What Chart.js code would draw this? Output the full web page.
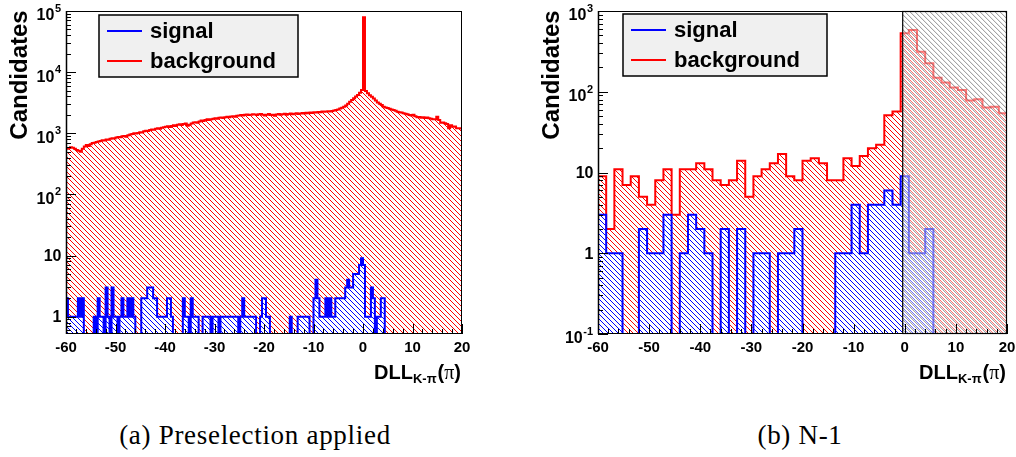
<!DOCTYPE html>
<html>
<head>
<meta charset="utf-8">
<script src="https://cdn.jsdelivr.net/npm/chart.js@4.4.1/dist/chart.umd.min.js"></script>
<style>
  body { margin: 0; background: #fff; width: 1016px; height: 457px; position: relative; overflow: hidden; }
  canvas { position: absolute; top: 0; }
  #chart-a { left: 0; }
  #chart-b { left: 505px; }
  .caption { position: absolute; top: 420px; font-family: 'Liberation Serif', serif; font-size: 27px; letter-spacing: 0.7px; color: #000; white-space: nowrap; transform: translateX(-50%); }
</style>
</head>
<body>
<canvas id="chart-a" width="505" height="400"></canvas>
<canvas id="chart-b" width="511" height="400"></canvas>
<div class="caption" style="left:255px">(a) Preselection applied</div>
<div class="caption" style="left:800px">(b) N-1</div>
<script>
// x range shared by both panels
const xMin = -60;
const xMax = 20;
const xTicks = [-60, -50, -40, -30, -20, -10, 0, 10, 20];
const legendLabels = ['signal', 'background'];
const xTitle = ['DLL', 'K-\u03c0', '(\u03c0)'];
const yTitle = 'Candidates';

// (a) preselection applied: 200 bins of 0.4
const bkgA = [
  560, 575, 590, 580, 560, 530, 515, 500, 560, 610, 640, 620, 660, 690, 700, 720, 735, 750, 770, 760,
  790, 780, 810, 830, 820, 850, 870, 860, 890, 900, 880, 930, 950, 970, 1000, 990, 1010, 1040, 1030, 1080,
  1100, 1090, 1130, 1150, 1140, 1180, 1210, 1190, 1230, 1250, 1280, 1300, 1270, 1320, 1350, 1310, 1380, 1400, 1370, 1420,
  1450, 1330, 1380, 1440, 1500, 1520, 1490, 1560, 1620, 1580, 1650, 1690, 1640, 1700, 1730, 1760, 1720, 1790, 1810, 1780,
  1830, 1860, 1820, 1880, 1900, 1870, 1930, 1960, 1990, 1950, 2000, 2030, 1990, 2010, 2050, 2020, 1980, 2040, 2060, 2000,
  1950, 2010, 2060, 1990, 2000, 1940, 2030, 2070, 2010, 2050, 2090, 2000, 2060, 2100, 2040, 2080, 2120, 2070, 2110, 2150,
  2100, 2170, 2120, 2180, 2150, 2200, 2180, 2230, 2200, 2260, 2240, 2280, 2300, 2270, 2320, 2350, 2400, 2450, 2550, 2620,
  2720, 2850, 3050, 3280, 3500, 3750, 4000, 4230, 4600, 5100, 79000, 4900, 4500, 4200, 3950, 3700, 3450, 3200, 3050, 2900,
  2720, 2650, 2580, 2520, 2450, 2400, 2330, 2250, 2200, 2180, 2120, 2080, 2050, 1990, 1960, 2000, 1900, 1830, 1850, 1800,
  1830, 1780, 1810, 1760, 1720, 1690, 1700, 1870, 1650, 1490, 1500, 1460, 1420, 1205, 1350, 1280, 1290, 1205, 1210, 1200
];
const sigA = [
  2, 1, 1, 1, 1, 1, 2, 1, 2, 0, 0, 0, 0, 0, 1, 0, 2, 1, 1, 0,
  3, 1, 0, 3, 1, 1, 0, 1, 2, 1, 1, 2, 1, 2, 1, 0, 0, 0, 2, 2,
  2, 3, 3, 3, 2, 2, 1, 1, 1, 1, 1, 2, 2, 1, 0, 0, 0, 0, 0, 2,
  1, 1, 0, 2, 1, 1, 1, 0, 0, 1, 1, 1, 1, 0, 1, 1, 1, 0, 1, 1,
  1, 1, 1, 1, 1, 1, 1, 0, 1, 2, 1, 1, 1, 1, 1, 1, 0, 0, 1, 2,
  2, 1, 1, 0, 0, 0, 0, 0, 0, 0, 0, 0, 0, 1, 0, 0, 0, 1, 1, 1,
  1, 1, 1, 0, 0, 2, 4, 2, 1, 1, 1, 2, 1, 2, 1, 1, 2, 2, 2, 2,
  2, 3, 4, 3, 3, 5, 5, 5, 7, 9, 7, 1, 1, 1, 3, 2, 0, 1, 1, 2,
  2, 0, 0, 0, 0, 0, 0, 0, 0, 0, 0, 0, 0, 0, 0, 0, 0, 0, 0, 0,
  0, 0, 0, 0, 0, 0, 0, 0, 0, 0, 0, 0, 0, 0, 0, 0, 0, 0, 0, 0
];
const yTicksA = [1, 10, 100, 1000, 10000, 100000];

// (b) N-1: 50 bins of 1.6
const bkgB = [
  9, 2, 11, 7, 9, 5, 4, 8, 11, 3,
  11, 11, 13, 11, 8, 7, 8, 14, 5, 9,
  11, 13, 17, 9, 8, 14, 15, 13, 8, 8,
  15, 12, 16, 20, 22, 51, 57, 530, 582, 313,
  225, 149, 130, 113, 105, 78, 81, 64, 65, 54
];
const sigB = [
  3, 1, 1, 0, 0, 2, 1, 1, 3, 0,
  1, 3, 2, 1, 0, 2, 0, 2, 0, 1,
  1, 0, 1, 1, 2, 0, 0, 0, 0, 1,
  1, 4, 1, 4, 4, 6, 4, 9, 1, 1,
  2, 0, 0, 0, 0, 0, 0, 0, 0, 0
];
const yTicksB = [0.1, 1, 10, 100, 1000];
const cutB = -0.5;

const FONT = "'Liberation Sans', Arial, sans-serif";
Chart.defaults.font.family = FONT;

function histPoints(values, floor) {
    const w = (xMax - xMin) / values.length;
    const pts = [{ x: xMin, y: floor }];
    values.forEach((v, i) => pts.push({ x: xMin + i * w, y: Math.max(v, floor) }));
    pts.push({ x: xMax, y: floor });
    return pts;
}

function makeHatch(color, size) {
    const c = document.createElement('canvas');
    c.width = size;
    c.height = size;
    const g = c.getContext('2d');
    g.strokeStyle = color;
    g.lineWidth = 1;
    g.beginPath();
    g.moveTo(0, 0); g.lineTo(size, size);
    g.moveTo(-size, 0); g.lineTo(size, 2 * size);
    g.moveTo(0, -size); g.lineTo(2 * size, size);
    g.stroke();
    return g.createPattern(c, 'repeat');
}

// diagonal lines drawn straight onto the chart, used for the cut region
function hatchRect(ctx, x0, y0, x1, y1, color, step) {
    ctx.save();
    ctx.beginPath();
    ctx.rect(x0, y0, x1 - x0, y1 - y0);
    ctx.clip();
    ctx.strokeStyle = color;
    ctx.lineWidth = 1;
    ctx.beginPath();
    const h = y1 - y0;
    for (let s = x0 - h; s < x1; s += step) {
        ctx.moveTo(s, y0);
        ctx.lineTo(s + h, y1);
    }
    ctx.stroke();
    ctx.restore();
}

function drawYLabel(ctx, v, xr, y) {
    const e = Math.round(Math.log10(v));
    ctx.fillStyle = '#000';
    ctx.textAlign = 'right';
    ctx.textBaseline = 'middle';
    if (e === 0 || e === 1) {
        ctx.font = 'bold 16px ' + FONT;
        ctx.fillText(e === 0 ? '1' : '10', xr + 0.5, y + 1);
        return;
    }
    ctx.font = 'bold 11px ' + FONT;
    const exp = String(e);
    const ew = ctx.measureText(exp).width;
    ctx.fillText(exp, xr, y - 2);
    ctx.font = 'bold 16px ' + FONT;
    ctx.fillText('10', xr - ew - 0.5, y + 5);
}

function panelPlugin(opt) {
    return {
        id: 'panel',
        afterDatasetsDraw(chart) {
            if (opt.cut === undefined) return;
            const { ctx, chartArea: a } = chart;
            const x0 = chart.scales.x.getPixelForValue(opt.cut);
            ctx.save();
            ctx.fillStyle = 'rgba(255,255,255,0.45)';
            ctx.fillRect(x0, a.top, a.right - x0, a.bottom - a.top);
            hatchRect(ctx, x0, a.top, a.right, a.bottom, 'rgba(95,95,95,0.7)', 5);
            ctx.strokeStyle = '#000';
            ctx.lineWidth = 1.2;
            ctx.strokeRect(x0 + 0.5, a.top + 0.5, a.right - x0 - 1, a.bottom - a.top - 1);
            ctx.restore();
        },
        afterDraw(chart) {
            const { ctx, chartArea: a } = chart;
            const xs = chart.scales.x, ys = chart.scales.y;
            ctx.save();
            // frame
            ctx.strokeStyle = '#000';
            ctx.lineWidth = 1;
            ctx.strokeRect(a.left + 0.5, a.top + 0.5, a.right - a.left - 1, a.bottom - a.top - 1);
            ctx.lineWidth = 1.5;
            ctx.beginPath();
            ctx.moveTo(a.left + 0.5, a.top); ctx.lineTo(a.left + 0.5, a.bottom);
            ctx.stroke();
            // x ticks
            ctx.lineWidth = 1;
            ctx.beginPath();
            for (let v = xMin; v <= xMax; v += 2) {
                const px = Math.round(xs.getPixelForValue(v)) + 0.5;
                const len = v % 10 === 0 ? 10 : 5;
                ctx.moveTo(px, a.bottom);
                ctx.lineTo(px, a.bottom - len);
            }
            // y ticks (log)
            const d0 = Math.floor(Math.log10(ys.min));
            const d1 = Math.ceil(Math.log10(ys.max));
            for (let d = d0; d <= d1; d++) {
                for (let m = 1; m <= 9; m++) {
                    const v = m * Math.pow(10, d);
                    if (v < ys.min * 0.999 || v > ys.max * 1.001) continue;
                    const py = Math.round(ys.getPixelForValue(v)) + 0.5;
                    ctx.moveTo(a.left, py);
                    ctx.lineTo(a.left + (m === 1 ? 10 : 5), py);
                }
            }
            ctx.stroke();
            // tick labels
            ctx.fillStyle = '#000';
            ctx.font = 'bold 15px ' + FONT;
            ctx.textAlign = 'center';
            ctx.textBaseline = 'top';
            xTicks.forEach(v => ctx.fillText(String(v), xs.getPixelForValue(v), a.bottom + 6));
            opt.yTicks.forEach(v => drawYLabel(ctx, v, a.left - 5, ys.getPixelForValue(v)));
            // y title
            ctx.save();
            ctx.translate(opt.yTitleX, 75);
            ctx.rotate(-Math.PI / 2);
            ctx.font = 'bold 24px ' + FONT;
            ctx.textAlign = 'center';
            ctx.textBaseline = 'middle';
            ctx.fillText(yTitle, 0, 0);
            ctx.restore();
            // x title, right aligned at frame edge
            const base = 379;
            ctx.textAlign = 'left';
            ctx.textBaseline = 'alphabetic';
            ctx.font = 'bold 20px ' + FONT;
            const w1 = ctx.measureText(xTitle[0]).width;
            ctx.font = 'bold 13px ' + FONT;
            const w2 = ctx.measureText(xTitle[1]).width;
            ctx.font = 'bold 20px ' + FONT;
            const wp = ctx.measureText('()').width;
            ctx.font = "20px 'Liberation Serif', serif";
            const wpi = ctx.measureText('\u03c0').width;
            let tx = a.right - (w1 + w2 + wp + wpi + 2);
            ctx.font = 'bold 20px ' + FONT;
            ctx.fillText(xTitle[0], tx, base); tx += w1;
            ctx.font = 'bold 13px ' + FONT;
            ctx.fillText(xTitle[1], tx, base + 4); tx += w2 + 1;
            ctx.font = 'bold 20px ' + FONT;
            ctx.fillText('(', tx, base); tx += wp / 2;
            ctx.font = "20px 'Liberation Serif', serif";
            ctx.fillText('\u03c0', tx, base); tx += wpi;
            ctx.font = 'bold 20px ' + FONT;
            ctx.fillText(')', tx, base);
            // legend
            const bx = a.left + opt.legend.dx, by = a.top + opt.legend.dy;
            const bw = opt.legend.w, bh = 62;
            ctx.fillStyle = '#f0f0f0';
            ctx.fillRect(bx, by, bw, bh);
            ctx.strokeStyle = '#000';
            ctx.lineWidth = 1.5;
            ctx.strokeRect(bx, by, bw, bh);
            chart.data.datasets.forEach((ds, i) => {
                const ly = by + 16 + i * 30;
                ctx.strokeStyle = ds.borderColor;
                ctx.lineWidth = 2;
                ctx.beginPath();
                ctx.moveTo(bx + 8, ly);
                ctx.lineTo(bx + 43, ly);
                ctx.stroke();
                ctx.fillStyle = '#000';
                ctx.font = 'bold 22px ' + FONT;
                ctx.textAlign = 'left';
                ctx.textBaseline = 'alphabetic';
                ctx.fillText(ds.label, bx + 51, ly + 7);
            });
            ctx.restore();
        }
    };
}

function makePanel(id, sig, bkg, yMin, yMax, padding, opt) {
    const canvas = document.getElementById(id);
    return new Chart(canvas, {
        type: 'line',
        data: {
            datasets: [
                {
                    label: legendLabels[0],
                    data: histPoints(sig, yMin),
                    borderColor: '#0000ff',
                    borderWidth: 2,
                    backgroundColor: makeHatch('#0000ff', 5),
                    fill: 'start',
                    stepped: true
                },
                {
                    label: legendLabels[1],
                    data: histPoints(bkg, yMin),
                    borderColor: '#ff0000',
                    borderWidth: 2,
                    backgroundColor: makeHatch('#ff0000', 5),
                    fill: 'start',
                    stepped: true
                }
            ]
        },
        options: {
            responsive: false,
            animation: false,
            devicePixelRatio: 1,
            layout: { padding: padding },
            elements: { point: { radius: 0 }, line: { tension: 0 } },
            scales: {
                x: { type: 'linear', display: false, min: xMin, max: xMax },
                y: { type: 'logarithmic', display: false, min: yMin, max: yMax }
            },
            plugins: {
                legend: { display: false },
                tooltip: { enabled: false }
            }
        },
        plugins: [panelPlugin(opt)]
    });
}

makePanel('chart-a', sigA, bkgA, 0.52, 100000,
    { left: 66, top: 11, right: 43, bottom: 66 },
    { yTicks: yTicksA, yTitleX: 20, legend: { dx: 33, dy: 4, w: 199 } });

makePanel('chart-b', sigB, bkgB, 0.1, 1000,
    { left: 93, top: 11, right: 9, bottom: 66 },
    { yTicks: yTicksB, yTitleX: 47, cut: cutB, legend: { dx: 25, dy: 3, w: 204 } });
</script>
</body>
</html>
